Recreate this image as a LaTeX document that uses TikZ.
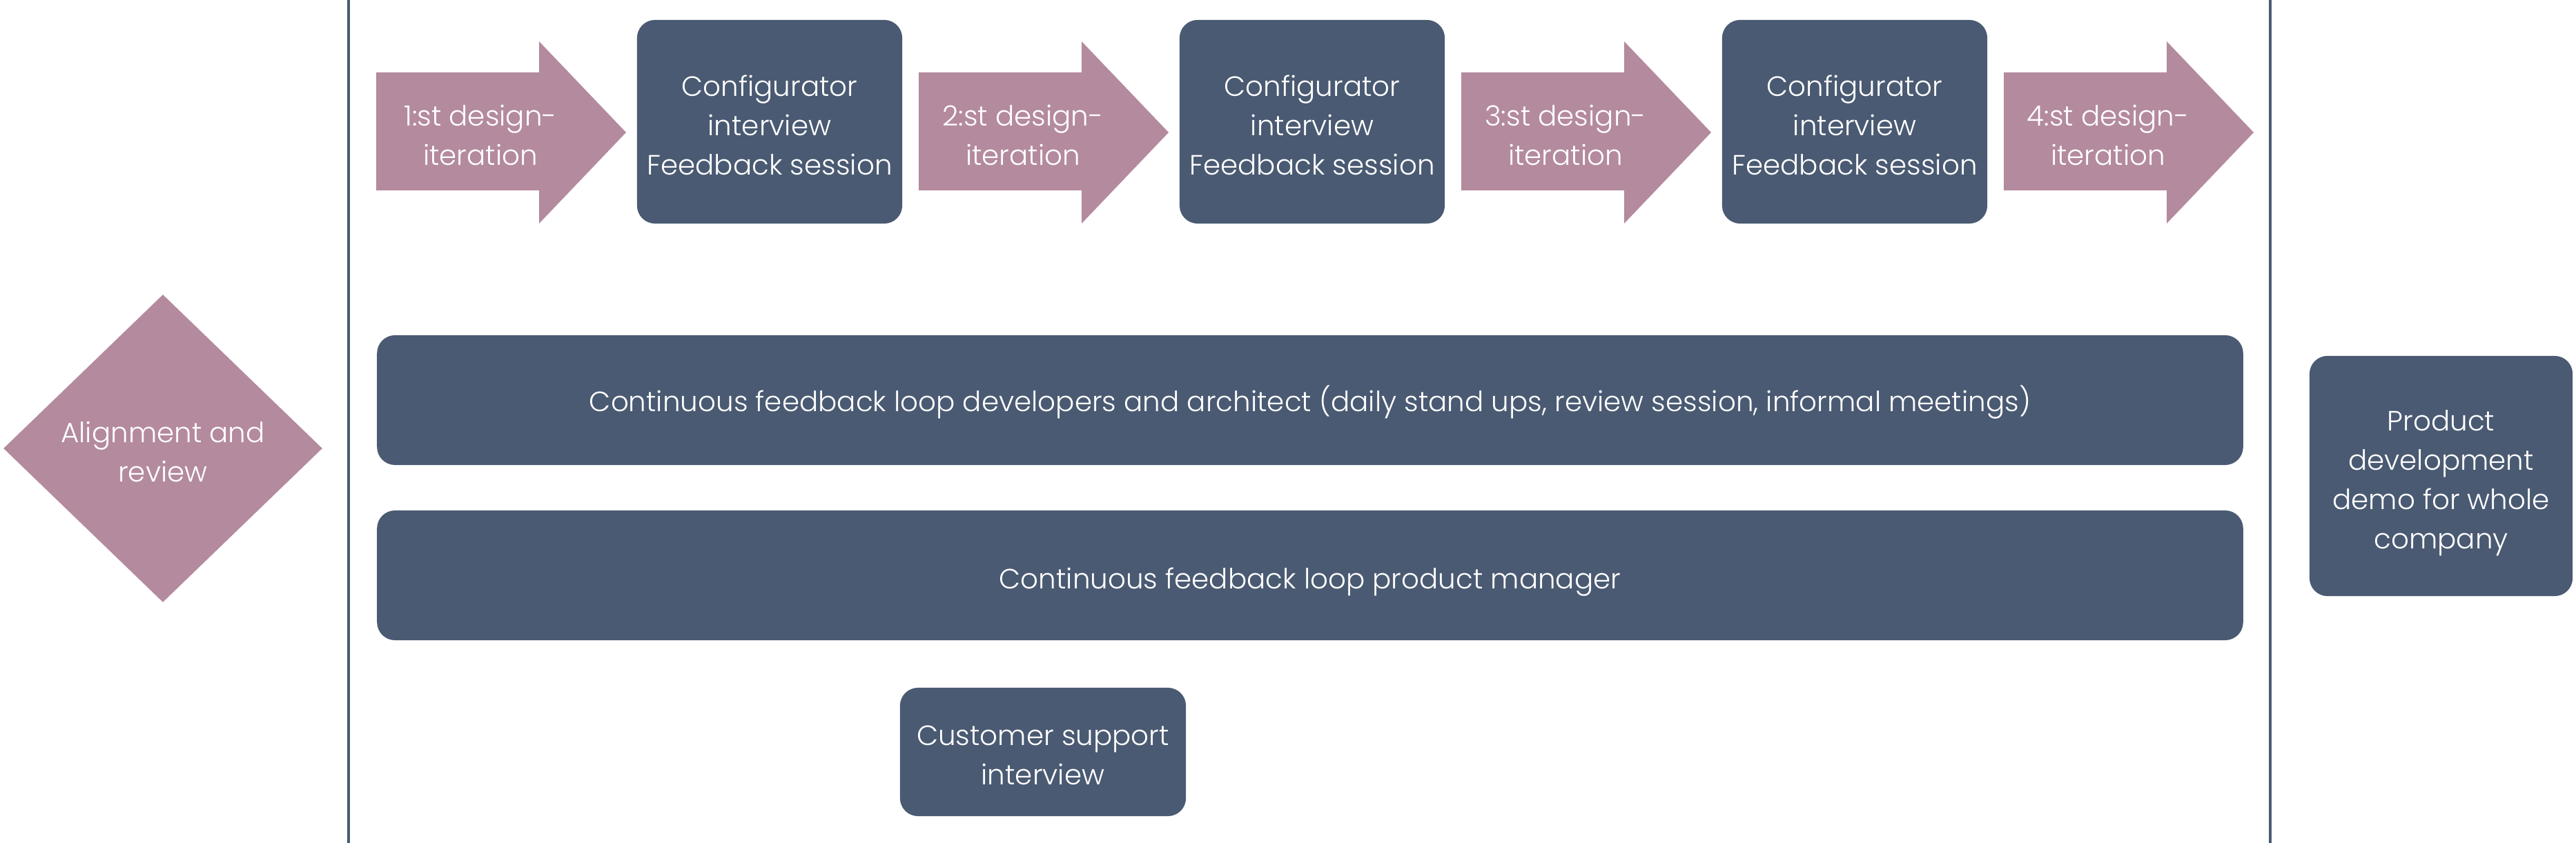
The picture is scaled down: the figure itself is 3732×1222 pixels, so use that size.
\documentclass[tikz,border=0pt]{standalone}
\usepackage{fontspec}
\setmainfont{Poppins Light}
\usetikzlibrary{shapes.geometric}
\definecolor{mauve}{RGB}{180,138,158}
\definecolor{slate}{RGB}{74,90,114}
\begin{document}
\begin{tikzpicture}[x=0.01cm,y=-0.01cm,
  txt/.style={text=white, align=center, font=\fontsize{11.5}{16.2}\selectfont, inner sep=0pt},
  darkbox/.style={fill=slate, rounded corners=0.26cm, inner sep=0pt},
  sepline/.style={draw=slate, line width=0.045cm},
  iterarrow/.style={fill=mauve}]
\useasboundingbox (0,0) rectangle (3732,1222);
\draw[sepline] (505,0) -- (505,1222);
\draw[sepline] (3289,0) -- (3289,1222);
% arrows and boxes
\foreach \k/\lbl in {0/1,1/2,2/3,3/4}{
  \fill[iterarrow] ({545+\k*786},105) -- ({781+\k*786},105) -- ({781+\k*786},60) -- ({907+\k*786},192) -- ({781+\k*786},324) -- ({781+\k*786},276) -- ({545+\k*786},276) -- cycle;
  \node[txt] (it\lbl) at ({696+\k*786},196) {\lbl:st design-\\iteration};
}
\foreach \k in {0,1,2}{
  \node[darkbox, minimum width=3.84cm, minimum height=2.95cm] (cfg\k) at ({1115+\k*786},176.5) {};
  \node[txt] (cfgt\k) at ([yshift=-0.05cm]cfg\k.center) {Configurator\\interview\\Feedback session};
}
\node[darkbox, minimum width=27.02cm, minimum height=1.88cm] (dev) at (1898,580) {};
\node[txt] (devt) at ([yshift=-0.03cm]dev.center) {Continuous feedback loop developers and architect (daily stand ups, review session, informal meetings)};
\node[darkbox, minimum width=27.02cm, minimum height=1.88cm] (pm) at (1898,834) {};
\node[txt] (pmt) at ([yshift=-0.1cm]pm.center) {Continuous feedback loop product manager};
\node[darkbox, minimum width=4.14cm, minimum height=1.86cm] (cs) at (1511,1090) {};
\node[txt] (cst) at ([yshift=-0.05cm]cs.center) {Customer support\\interview};
\node[darkbox, minimum width=3.81cm, minimum height=3.48cm] (pd) at (3536.5,690) {};
\node[txt] (pdt) at ([yshift=-0.1cm]pd.center) {Product\\development\\demo for whole\\company};
\node[diamond, fill=mauve, inner sep=0pt, minimum width=4.62cm, minimum height=4.46cm] (align) at (236,650) {};
\node[txt] (alignt) at ([yshift=-0.05cm]align.center) {Alignment and\\review};
\end{tikzpicture}
\end{document}
